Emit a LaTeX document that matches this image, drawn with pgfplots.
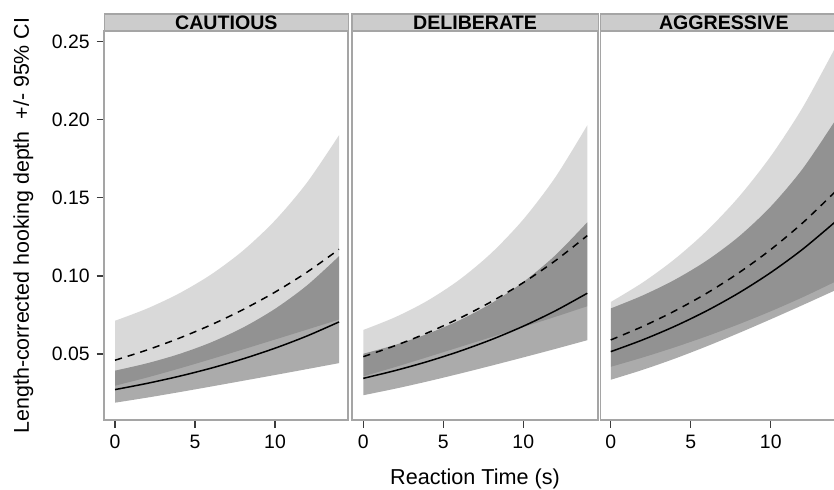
\documentclass[border=0pt]{standalone}
\usepackage{fontspec}
\setmainfont{Liberation Sans}
\usepackage{pgfplots}
\usepackage{pgfplotstable}
\pgfplotsset{compat=1.18}
\usepgfplotslibrary{fillbetween}

\definecolor{framegray}{RGB}{165,165,165}
\definecolor{stripgray}{RGB}{204,204,204}
\definecolor{tickgray}{RGB}{60,60,60}

% x = reaction time, d = dashed fit, au/al = its 95% CI, s = solid fit, bu/bl = its 95% CI
\pgfplotstableread{
x  d       au      al      s       bu      bl
0  0.04600 0.07128 0.02969 0.02720 0.03934 0.01881
2  0.05256 0.07908 0.03493 0.03117 0.04404 0.02205
4  0.06007 0.08876 0.04065 0.03571 0.04994 0.02553
6  0.06864 0.10088 0.04670 0.04091 0.05742 0.02915
8  0.07843 0.11619 0.05294 0.04688 0.06692 0.03284
10 0.08962 0.13553 0.05926 0.05371 0.07892 0.03655
12 0.10241 0.15981 0.06563 0.06154 0.09393 0.04032
14 0.11703 0.19010 0.07204 0.07051 0.11261 0.04415
}\cautious
\pgfplotstableread{
x  d       au      al      s       bu      bl
0  0.04830 0.06539 0.03568 0.03440 0.05015 0.02360
2  0.05538 0.07359 0.04167 0.03940 0.05585 0.02779
4  0.06349 0.08405 0.04796 0.04512 0.06283 0.03240
6  0.07280 0.09748 0.05437 0.05168 0.07152 0.03734
8  0.08347 0.11460 0.06079 0.05918 0.08242 0.04250
10 0.09570 0.13618 0.06725 0.06778 0.09609 0.04781
12 0.10972 0.16311 0.07381 0.07762 0.11317 0.05324
14 0.12580 0.19643 0.08057 0.08890 0.13435 0.05883
}\deliberate
\pgfplotstableread{
x  d       au      al      s       bu      bl
0  0.05900 0.08330 0.04179 0.05150 0.07917 0.03350
2  0.06765 0.09579 0.04777 0.05906 0.08751 0.03986
4  0.07756 0.11080 0.05429 0.06773 0.09753 0.04703
6  0.08892 0.12885 0.06137 0.07767 0.10982 0.05493
8  0.10195 0.15055 0.06904 0.08907 0.12514 0.06340
10 0.11689 0.17664 0.07735 0.10215 0.14443 0.07224
12 0.13401 0.20798 0.08636 0.11714 0.16868 0.08135
14 0.15365 0.24559 0.09613 0.13434 0.19905 0.09066
}\aggressive

\pgfplotsset{
  facet/.style={
    scale only axis, height=194.5pt, anchor=south west,
    ymin=0.00773, ymax=0.25685,
    axis line style={draw=framegray, line width=0.9pt},
    tick pos=left, tick align=outside,
    major tick length=3.8pt,
    tick style={draw=tickgray, line width=0.6pt},
    xtick={0,5,10}, xticklabels={0,5,10},
    ticklabel style={font=\fontsize{9.7}{11}\selectfont, text=black},
  },
  aband/.style={fill=black, fill opacity=0.15, draw=none},
  bband/.style={fill=black, fill opacity=0.33, draw=none},
  edge/.style={draw=none, smooth},
  fitsolid/.style={black, line width=0.75pt, smooth},
  fitdash/.style={black, line width=0.75pt, smooth, dash pattern=on 3.6pt off 3pt},
}

\begin{document}
\begin{tikzpicture}

\begin{axis}[facet, at={(52.15pt,35pt)}, width=122pt, xmin=-0.67, xmax=14.58,
  ytick={0.05,0.10,0.15,0.20,0.25}, yticklabels={0.05,0.10,0.15,0.20,0.25}]
  \addplot[edge, name path=au1] table[x=x, y=au] {\cautious};
  \addplot[edge, name path=al1] table[x=x, y=al] {\cautious};
  \addplot[edge, name path=bu1] table[x=x, y=bu] {\cautious};
  \addplot[edge, name path=bl1] table[x=x, y=bl] {\cautious};
  \addplot[aband] fill between[of=au1 and al1];
  \addplot[bband] fill between[of=bu1 and bl1];
  \addplot[fitdash] table[x=x, y=d] {\cautious};
  \addplot[fitsolid] table[x=x, y=s] {\cautious};
\end{axis}

\begin{axis}[facet, at={(175.85pt,35pt)}, width=123.3pt, xmin=-0.725, xmax=14.69, ytick=\empty]
  \addplot[edge, name path=au2] table[x=x, y=au] {\deliberate};
  \addplot[edge, name path=al2] table[x=x, y=al] {\deliberate};
  \addplot[edge, name path=bu2] table[x=x, y=bu] {\deliberate};
  \addplot[edge, name path=bl2] table[x=x, y=bl] {\deliberate};
  \addplot[aband] fill between[of=au2 and al2];
  \addplot[bband] fill between[of=bu2 and bl2];
  \addplot[fitdash] table[x=x, y=d] {\deliberate};
  \addplot[fitsolid] table[x=x, y=s] {\deliberate};
\end{axis}

\begin{axis}[facet, at={(300.25pt,35pt)}, width=117.92pt, xmin=-0.64, xmax=14.1, ytick=\empty]
  \addplot[edge, name path=au3] table[x=x, y=au] {\aggressive};
  \addplot[edge, name path=al3] table[x=x, y=al] {\aggressive};
  \addplot[edge, name path=bu3] table[x=x, y=bu] {\aggressive};
  \addplot[edge, name path=bl3] table[x=x, y=bl] {\aggressive};
  \addplot[aband] fill between[of=au3 and al3];
  \addplot[bband] fill between[of=bu3 and bl3];
  \addplot[fitdash] table[x=x, y=d] {\aggressive};
  \addplot[fitsolid] table[x=x, y=s] {\aggressive};
\end{axis}

% facet strips
\begin{scope}[draw=framegray, fill=stripgray, line width=0.8pt]
  \filldraw (52.15pt,229.5pt) rectangle (174.15pt,238pt);
  \filldraw (175.85pt,229.5pt) rectangle (299.15pt,238pt);
  \filldraw (300.25pt,229.5pt) rectangle (420pt,238pt);
\end{scope}
\begin{scope}[font=\fontsize{9.8}{11}\selectfont\bfseries, anchor=base, inner sep=0pt]
  \node at (113.15pt,230.4pt) {CAUTIOUS};
  \node at (237.5pt,230.4pt) {DELIBERATE};
  \node at (361.9pt,230.4pt) {AGGRESSIVE};
\end{scope}

% axis titles
\node[rotate=90, font=\fontsize{10.7}{12}\selectfont, inner sep=0pt] at (11.7pt,132.25pt)
  {Length-corrected hooking depth\ \ +/- 95\% CI};
\node[font=\fontsize{10.8}{12}\selectfont, anchor=base, inner sep=0pt] at (237.5pt,2.5pt)
  {Reaction Time (s)};

\pgfresetboundingbox
\path[use as bounding box] (0,0) rectangle (417pt,245pt);
\end{tikzpicture}
\end{document}
